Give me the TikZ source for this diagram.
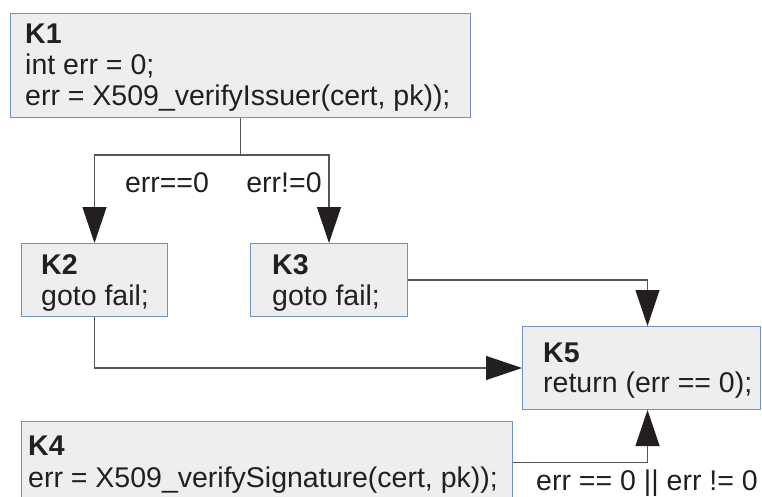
\documentclass[tikz,border=0pt]{standalone}
\usepackage{fontspec}
\setmainfont{Liberation Sans}
\usetikzlibrary{arrows.meta,calc}

\definecolor{boxfill}{HTML}{EEEEEE}
\definecolor{boxline}{HTML}{6F93C8}
\definecolor{wire}{HTML}{555555}
\definecolor{tip}{HTML}{231F20}

\tikzset{
  block/.style={draw=boxline, fill=boxfill, line width=1pt, rectangle,
                inner sep=0pt, anchor=north west},
  txt/.style={anchor=base west, inner sep=0pt, text=tip,
              font=\fontsize{28.5}{32}\selectfont},
  lbl/.style={anchor=base, inner sep=0pt, text=tip,
              font=\fontsize{28.5}{32}\selectfont},
  flow/.style={draw=wire, line width=1.2pt,
               -{Triangle[length=36pt,width=24pt,color=tip]}},
  wireonly/.style={draw=wire, line width=1.2pt}
}

\begin{document}
\begin{tikzpicture}[x=1pt,y=-1pt]
  \useasboundingbox (0,0) rectangle (762,497);
  \clip (0,0) rectangle (762,497);

  % basic blocks
  \node[block, minimum width=460pt, minimum height=104pt] (k1) at (10,13) {};
  \node[block, minimum width=146pt, minimum height=73pt]  (k2) at (21,243) {};
  \node[block, minimum width=157pt, minimum height=73pt]  (k3) at (250,243) {};
  \node[block, minimum width=238pt, minimum height=83pt]  (k5) at (522,326) {};
  \node[block, minimum width=491pt, minimum height=82pt]  (k4) at (21,421) {};

  % block contents
  \node[txt] at (25,44)  {\textbf{K1}};
  \node[txt] at (25,75)  {int err = 0;};
  \node[txt] at (25,106) {err = X509\_verifyIssuer(cert, pk));};

  \node[txt] at (41,274)  {\textbf{K2}};
  \node[txt] at (41,305)  {goto fail;};

  \node[txt] at (272,274) {\textbf{K3}};
  \node[txt] at (272,305) {goto fail;};

  \node[txt] at (543,362) {\textbf{K5}};
  \node[txt] at (543,392) {return (err == 0);};

  \node[txt] at (28,455) {\textbf{K4}};
  \node[txt] at (28,487) {err = X509\_verifySignature(cert, pk));};

  % branch after K1
  \coordinate (split) at ($(k1.south)+(0,37)$);
  \draw[wireonly] (k1.south) -- (split);
  \draw[flow] (split) -| (k2.north);
  \draw[flow] (split) -| (k3.north);
  \node[lbl] at (167,192) {err==0};
  \node[lbl] at (284,192) {err!=0};

  % edges into K5
  \draw[flow] (k2.south) |- (k5.west);
  \draw[flow] (k3.east) -| ([xshift=6pt]k5.north);
  \draw[flow] (k4.east) -| ([xshift=6pt]k5.south);
  \node[lbl] at (647,490) {err == 0 || err != 0};
\end{tikzpicture}
\end{document}
